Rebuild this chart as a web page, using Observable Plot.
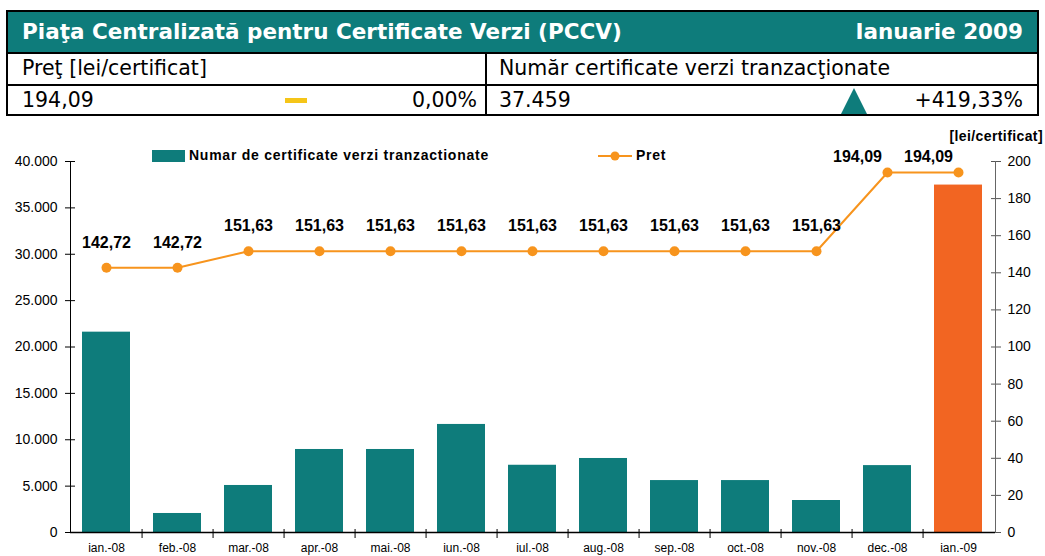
<!DOCTYPE html>
<html>
<head>
<meta charset="utf-8">
<script src="https://cdn.jsdelivr.net/npm/d3@7"></script>
<script src="https://cdn.jsdelivr.net/npm/@observablehq/plot@0.6"></script>
<style>
  body { margin: 0; background: #fff; width: 1045px; height: 556px; position: relative; overflow: hidden; font-family: "DejaVu Sans", sans-serif; }
  #hdr { position: absolute; left: 6px; top: 10px; width: 1029px; border: 2px solid #000; }
  .r1 { height: 40px; background: #0E7C7B; color: #fff; font-weight: bold; font-size: 21.5px; position: relative; border-bottom: 2px solid #000; }
  .r1 .t { position: absolute; left: 14px; top: 7px; }
  .r1 .d { position: absolute; right: 14px; top: 7px; }
  .row { position: relative; font-size: 20.5px; color: #000; }
  .r2 { height: 30px; border-bottom: 2px solid #000; }
  .r3 { height: 28px; }
  .cell { position: absolute; top: 0; bottom: 0; }
  .c1 { left: 0; width: 477px; border-right: 2px solid #000; }
  .c2 { left: 479px; right: 0; }
  .txt { position: absolute; top: 2px; white-space: nowrap; }
  #chart { position: absolute; left: 0; top: 120px; }
  .leg { position: absolute; font-family: "Liberation Sans", Arial, sans-serif; font-weight: bold; font-size: 14px; letter-spacing: 0.75px; color: #000; white-space: nowrap; }
</style>
</head>
<body>
<div id="hdr">
  <div class="r1"><span class="t" id="title"></span><span class="d" id="month"></span></div>
  <div class="row r2">
    <div class="cell c1"><span class="txt" style="left:14px" id="h1"></span></div>
    <div class="cell c2"><span class="txt" style="left:12px" id="h2"></span></div>
  </div>
  <div class="row r3">
    <div class="cell c1">
      <span class="txt" style="left:14px" id="v1"></span>
      <span style="position:absolute;left:277px;top:12px;width:22px;height:5px;background:#F5C518"></span>
      <span class="txt" style="right:8px" id="p1"></span>
    </div>
    <div class="cell c2">
      <span class="txt" style="left:12px" id="v2"></span>
      <svg style="position:absolute;left:353px;top:2px" width="28" height="26"><polygon points="14,0 27,26 1,26" fill="#0E7C7B"/></svg>
      <span class="txt" style="right:14px" id="p2"></span>
    </div>
  </div>
</div>
<div id="chart"></div>
<div class="leg" style="left:152px;top:150px;width:33px;height:12px;background:#0E7C7B"></div>
<div class="leg" style="left:189px;top:147px" id="leg1"></div>
<svg class="leg" style="left:596px;top:149px" width="38" height="14"><line x1="2" y1="7" x2="36" y2="7" stroke="#F7941D" stroke-width="2"/><circle cx="19" cy="7" r="4.5" fill="#F7941D"/></svg>
<div class="leg" style="left:636px;top:147px" id="leg2"></div>
<div class="leg" style="right:2px;top:128px;font-size:14px;letter-spacing:0.4px" id="unit"></div>
<script>
// ---- texts ----
const titleText = "Piaţa Centralizată pentru Certificate Verzi (PCCV)";
const monthText = "Ianuarie 2009";
const priceHeader = "Preţ [lei/certificat]";
const volumeHeader = "Număr certificate verzi tranzacţionate";
const priceValue = "194,09";
const priceChange = "0,00%";
const volumeValue = "37.459";
const volumeChange = "+419,33%";
const legendVolume = "Numar de certificate verzi tranzactionate";
const legendPrice = "Pret";
const unitLabel = "[lei/certificat]";

// ---- data ----
const months = ["ian.-08","feb.-08","mar.-08","apr.-08","mai.-08","iun.-08","iul.-08","aug.-08","sep.-08","oct.-08","nov.-08","dec.-08","ian.-09"];
const volumes = [21600, 2050, 5070, 8950, 8950, 11650, 7250, 7980, 5600, 5600, 3450, 7213, 37459];
const prices = [142.72, 142.72, 151.63, 151.63, 151.63, 151.63, 151.63, 151.63, 151.63, 151.63, 151.63, 194.09, 194.09];
const volumeTicks = [0, 5000, 10000, 15000, 20000, 25000, 30000, 35000, 40000];
const priceTicks = [0, 20, 40, 60, 80, 100, 120, 140, 160, 180, 200];

document.getElementById("title").textContent = titleText;
document.getElementById("month").textContent = monthText;
document.getElementById("h1").textContent = priceHeader;
document.getElementById("h2").textContent = volumeHeader;
document.getElementById("v1").textContent = priceValue;
document.getElementById("p1").textContent = priceChange;
document.getElementById("v2").textContent = volumeValue;
document.getElementById("p2").textContent = volumeChange;
document.getElementById("leg1").textContent = legendVolume;
document.getElementById("leg2").textContent = legendPrice;
document.getElementById("unit").textContent = unitLabel;

const ro = d3.formatLocale({decimal: ",", thousands: ".", grouping: [3], currency: ["", ""]});
const fmtInt = ro.format(",.0f");
const fmt2 = ro.format(".2f");

const ratio = 40000 / 200; // price axis maps 0..200 onto volume 0..40000
const data = months.map((m, i) => ({month: m, volume: volumes[i], price: prices[i], last: i === months.length - 1}));
const early = data.slice(0, 11);
const late = data.slice(11);

const teal = "#0E7C7B", orange = "#F26522", lineOrange = "#F7941D";

const chart = Plot.plot({
  width: 1045,
  height: 436,
  marginLeft: 70,
  marginRight: 50,
  marginTop: 41,
  marginBottom: 24,
  style: {fontFamily: "'Liberation Sans', Arial, sans-serif", fontSize: "14px", color: "#000", background: "transparent"},
  x: {type: "band", domain: months, paddingInner: 0.32, paddingOuter: 0.16, label: null},
  y: {domain: [0, 40000], label: null},
  marks: [
    Plot.barY(data, {x: "month", y: "volume", fill: d => d.last ? orange : teal}),
    // left axis
    Plot.axisY({anchor: "left", ticks: volumeTicks, tickSize: 10, dx: 5, tickFormat: () => "", stroke: "#000"}),
    Plot.axisY({anchor: "left", ticks: volumeTicks, tickSize: 0, tickPadding: 13, tickFormat: fmtInt, fontSize: 14, label: null}),
    // right axis
    Plot.axisY({anchor: "right", ticks: priceTicks.map(p => p * ratio), tickSize: 10, dx: -5, tickFormat: () => "", stroke: "#555"}),
    Plot.axisY({anchor: "right", ticks: priceTicks.map(p => p * ratio), tickSize: 0, tickPadding: 12, tickFormat: d => String(d / ratio), fontSize: 14, label: null}),
    // bottom axis
    Plot.axisX({ticks: months.slice(0, 12), tickSize: 9, dx: 71.15 / 2, dy: -3, tickFormat: () => "", stroke: "#000"}),
    Plot.axisX({tickSize: 0, tickPadding: 11, fontSize: 12, label: null}),
    Plot.frame({anchor: "left", stroke: "#000"}),
    Plot.frame({anchor: "right", stroke: "#666"}),
    Plot.ruleY([0], {stroke: "#000", strokeWidth: 1.5}),
    // price line
    Plot.line(data, {x: "month", y: d => d.price * ratio, stroke: lineOrange, strokeWidth: 2}),
    Plot.dot(data, {x: "month", y: d => d.price * ratio, r: 5, fill: lineOrange}),
    Plot.text(early, {x: "month", y: d => d.price * ratio, text: d => fmt2(d.price), dy: -25, fontWeight: "bold", fontSize: 16}),
    Plot.text(late, {x: "month", y: d => d.price * ratio, text: d => fmt2(d.price), dy: -16, dx: -30, fontWeight: "bold", fontSize: 16})
  ]
});
document.getElementById("chart").appendChild(chart);
</script>
</body>
</html>
